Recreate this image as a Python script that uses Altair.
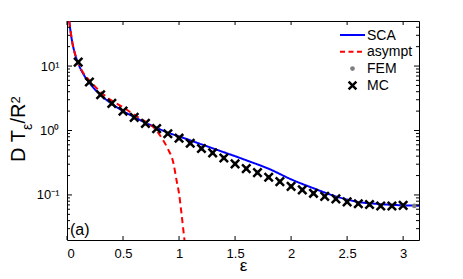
import altair as alt
import pandas as pd
import math

# ---------------- data ----------------
sca_eps = [0.02, 0.03, 0.05, 0.07, 0.1, 0.15, 0.2, 0.3, 0.4, 0.5, 0.6, 0.7, 0.8, 0.9,
           1.0, 1.2, 1.4, 1.5, 1.6, 1.8, 2.0, 2.2, 2.4, 2.5, 2.6, 2.8, 3.0, 3.1416]
sca_val = [50, 36, 22, 15.8, 11.0, 7.3, 5.5, 3.55, 2.6, 2.0, 1.62, 1.32, 1.1, 0.93,
           0.81, 0.61, 0.46, 0.40, 0.345, 0.255, 0.175, 0.127, 0.095, 0.085, 0.078, 0.072, 0.069, 0.068]

asy_eps = [0.02, 0.05, 0.1, 0.15, 0.2, 0.3, 0.4, 0.5, 0.6, 0.7, 0.8, 0.85, 0.9, 0.95,
           0.98, 1.0, 1.02, 1.038, 1.05, 1.056]
asy_val = [50, 22, 11.3, 7.6, 6.0, 3.95, 2.9, 2.3, 1.75, 1.37, 1.0, 0.74, 0.52, 0.31,
           0.16, 0.105, 0.055, 0.029, 0.019, 0.016]

mc_eps = [0.1, 0.2, 0.3, 0.4, 0.5, 0.6, 0.7, 0.8, 0.9, 1.0, 1.1, 1.2, 1.3, 1.4, 1.5,
          1.6, 1.7, 1.8, 1.9, 2.0, 2.1, 2.2, 2.3, 2.4, 2.5, 2.6, 2.7, 2.8, 2.9, 3.0]
mc_val = [11.5, 5.65, 3.59, 2.64, 2.0, 1.60, 1.29, 1.07, 0.89, 0.76, 0.634, 0.525, 0.45,
          0.375, 0.303, 0.256, 0.222, 0.188, 0.161, 0.136, 0.12, 0.106, 0.095, 0.087,
          0.078, 0.073, 0.071, 0.0675, 0.0675, 0.069]

fem_eps = [0.1, 0.2, 0.3, 0.4, 0.5, 0.6, 0.7, 0.8, 0.9, 1.0, 1.1, 1.2, 1.3, 1.4, 1.5,
           1.6, 1.7, 1.8, 1.9, 2.0, 2.1, 2.2, 2.3, 2.4, 2.5, 2.6, 2.7, 2.8, 2.9, 3.0, 3.1]
fem_val = [11.2, 5.6, 3.6, 2.62, 2.0, 1.6, 1.29, 1.07, 0.89, 0.76, 0.634, 0.525, 0.45,
           0.375, 0.303, 0.256, 0.222, 0.188, 0.161, 0.136, 0.12, 0.106, 0.095, 0.087,
           0.078, 0.073, 0.071, 0.0675, 0.0675, 0.069, 0.0675]

series_names = ["SCA", "asympt", "FEM", "MC"]
series_colors = ["#0000ff", "#ff0000", "#7f7f7f", "#000000"]

x_tick_vals = [0, 0.5, 1, 1.5, 2, 2.5, 3]
y_major = [0.1, 1, 10]
y_minor = [round(m * 10 ** k, 4) for k in (-2, -1, 0, 1) for m in range(2, 10)
           if 0.02 < m * 10 ** k < 50]

# ---------------- layout ----------------
W, H = 352, 219
FONT = "Liberation Sans"
XPATH = "M-1,-1L1,1M-1,1L1,-1"
col = dict(zip(series_names, series_colors))

lines_df = pd.concat([
    pd.DataFrame({"eps": sca_eps, "val": sca_val, "series": "SCA"}),
    pd.DataFrame({"eps": asy_eps, "val": asy_val, "series": "asympt"}),
])
mc_df = pd.DataFrame({"eps": mc_eps, "val": mc_val})
fem_df = pd.DataFrame({"eps": fem_eps, "val": fem_val})

xscale = alt.Scale(domain=[0, math.pi], nice=False, zero=False)
yscale = alt.Scale(type="log", domain=[0.02, 50], nice=False)

xaxis = alt.Axis(values=x_tick_vals, format="~g", title="ε", grid=False, domain=False,
                 ticks=False, labelPadding=7, titleY=30, titleBaseline="alphabetic",
                 titleFontSize=17, titleFontWeight="normal", labelFontSize=13)
yaxis = alt.Axis(values=y_major, grid=False, domain=False, ticks=False, labelPadding=8,
                 title=None, labelFontSize=13,
                 labelExpr="datum.value >= 5 ? '10¹' : (datum.value >= 0.5 ? '10⁰' : '10⁻¹')")

X = lambda f: alt.X(f, type="quantitative", scale=xscale, axis=xaxis)
Y = lambda f: alt.Y(f, type="quantitative", scale=yscale, axis=yaxis)

lines = alt.Chart(lines_df).mark_line(strokeWidth=2, clip=True, interpolate="monotone").encode(
    x=X("eps"), y=Y("val"),
    color=alt.Color("series:N", scale=alt.Scale(domain=series_names[:2], range=series_colors[:2]),
                    legend=None),
    strokeDash=alt.StrokeDash("series:N", scale=alt.Scale(domain=series_names[:2],
                                                          range=[[1, 0], [6, 4]]), legend=None),
)

fem = alt.Chart(fem_df).mark_point(filled=True, shape="circle", size=22, opacity=1,
                                   color=col["FEM"], clip=True).encode(x=X("eps"), y=Y("val"))
mc = alt.Chart(mc_df).mark_point(filled=False, shape=XPATH, strokeWidth=2.5, size=70, opacity=1,
                                 color=col["MC"], clip=True).encode(x=X("eps"), y=Y("val"))

# inside ticks (MATLAB style)
xt_df = pd.DataFrame({"t": x_tick_vals})
ymaj_df = pd.DataFrame({"t": y_major})
ymin_df = pd.DataFrame({"t": y_minor})
tick_col = "#000000"
def rule(df):
    return alt.Chart(df).mark_rule(color=tick_col, strokeWidth=1)
xt_bot = rule(xt_df).encode(x=X("t"), y=alt.value(H), y2=alt.value(H - 4))
xt_top = rule(xt_df).encode(x=X("t"), y=alt.value(0), y2=alt.value(4))
yt_l = rule(ymaj_df).encode(y=Y("t"), x=alt.value(0), x2=alt.value(5))
yt_r = rule(ymaj_df).encode(y=Y("t"), x=alt.value(W), x2=alt.value(W - 5))
ym_l = rule(ymin_df).encode(y=Y("t"), x=alt.value(0), x2=alt.value(3))
ym_r = rule(ymin_df).encode(y=Y("t"), x=alt.value(W), x2=alt.value(W - 3))

# ---------------- legend (top right, no box) ----------------
one = pd.DataFrame({"s": [""]})
LX0, LX1, LXC, LTX = 273, 298, 285.5, 300
row_y = [14 + 16.8 * i for i in range(len(series_names))]
leg_layers = [
    alt.Chart(one).mark_rule(color=col["SCA"], strokeWidth=2).encode(
        x=alt.value(LX0), x2=alt.value(LX1), y=alt.value(row_y[0])),
    alt.Chart(one).mark_rule(color=col["asympt"], strokeWidth=2, strokeDash=[5, 3.5]).encode(
        x=alt.value(LX0), x2=alt.value(LX1), y=alt.value(row_y[1])),
    alt.Chart(one).mark_point(filled=True, shape="circle", size=22, opacity=1, color=col["FEM"]).encode(
        x=alt.value(LXC), y=alt.value(row_y[2])),
    alt.Chart(one).mark_point(filled=False, shape=XPATH, strokeWidth=2.5, size=60, opacity=1,
                              color=col["MC"]).encode(x=alt.value(LXC), y=alt.value(row_y[3])),
]
for i, name in enumerate(series_names):
    leg_layers.append(
        alt.Chart(pd.DataFrame({"s": [name]})).mark_text(
            align="left", baseline="middle", fontSize=14, font=FONT, color="black").encode(
            text="s:N", x=alt.value(LTX), y=alt.value(row_y[i] + 0.5)))

# panel label
panel = alt.Chart(pd.DataFrame({"s": ["(a)"]})).mark_text(
    align="left", baseline="alphabetic", fontSize=16, font=FONT, color="black").encode(
    text="s:N", x=alt.value(3), y=alt.value(214))

# y title: D T_eps / R^2 (rotated, pieces)
def piece(txt, x, y, fs):
    return alt.Chart(pd.DataFrame({"s": [txt]})).mark_text(
        align="left", baseline="alphabetic", angle=270, fontSize=fs, font=FONT,
        color="black").encode(text="s:N", x=alt.value(x), y=alt.value(y))

ytitle = (piece("D T", -42, 141, 20) + piece("ε", -35, 109, 14)
          + piece("/R", -42, 102.5, 20) + piece("2", -47, 82.5, 13))

chart = alt.layer(
    lines, fem, mc, xt_bot, xt_top, yt_l, yt_r, ym_l, ym_r, *leg_layers, panel, ytitle
).properties(
    width=W, height=H,
    autosize=alt.AutoSizeParams(type="none"),
    padding={"left": 59, "top": 13, "right": 36, "bottom": 38},
).configure(font=FONT).configure_view(
    stroke="black", strokeWidth=1
).configure_axis(
    labelColor="black", titleColor="black", labelFont=FONT, titleFont=FONT
)

chart.save("out.html", embed_options={"renderer": "svg", "actions": False})
